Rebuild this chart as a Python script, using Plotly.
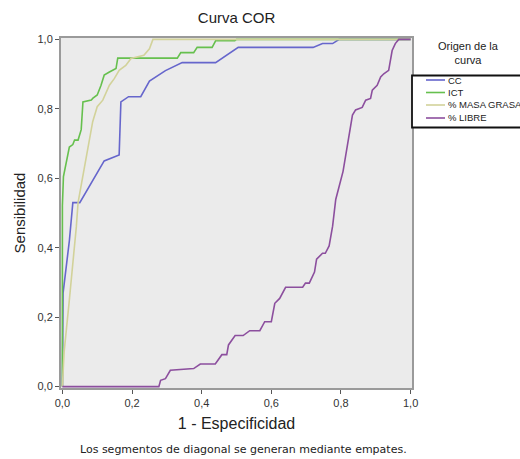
import plotly.graph_objects as go

cc_x = [0, 0, 0.002, 0.02, 0.03, 0.05, 0.097, 0.12, 0.163, 0.168, 0.19, 0.225, 0.25, 0.296, 0.344, 0.44, 0.505, 0.72, 0.747, 0.776, 0.795, 1.0]
cc_y = [0, 0.16, 0.27, 0.42, 0.53, 0.53, 0.61, 0.65, 0.667, 0.82, 0.835, 0.835, 0.88, 0.91, 0.933, 0.933, 0.977, 0.977, 0.988, 0.988, 1.0, 1.0]

ict_x = [0, 0, 0.003, 0.016, 0.02, 0.03, 0.035, 0.045, 0.054, 0.059, 0.083, 0.087, 0.10, 0.111, 0.12, 0.135, 0.154, 0.159, 0.33, 0.34, 0.377, 0.387, 0.43, 0.44, 0.495, 0.50, 1.0]
ict_y = [0, 0.52, 0.605, 0.663, 0.69, 0.697, 0.71, 0.71, 0.74, 0.82, 0.825, 0.83, 0.84, 0.868, 0.897, 0.906, 0.916, 0.946, 0.946, 0.962, 0.962, 0.977, 0.977, 0.996, 0.996, 1.0, 1.0]

masa_x = [0, 0.005, 0.02, 0.035, 0.04, 0.045, 0.059, 0.068, 0.078, 0.087, 0.10, 0.116, 0.135, 0.149, 0.163, 0.182, 0.197, 0.22, 0.234, 0.25, 0.258, 0.26, 1.0]
masa_y = [0, 0.1, 0.25, 0.395, 0.46, 0.53, 0.605, 0.653, 0.71, 0.763, 0.806, 0.825, 0.868, 0.887, 0.911, 0.925, 0.945, 0.95, 0.954, 0.973, 0.997, 1.0, 1.0]

libre_x = [0, 0.277, 0.282, 0.296, 0.31, 0.377, 0.396, 0.439, 0.458, 0.472, 0.477, 0.496, 0.519, 0.538, 0.567, 0.581, 0.60, 0.61, 0.624, 0.641, 0.69, 0.698, 0.709, 0.724, 0.73, 0.747, 0.755, 0.766, 0.776, 0.785, 0.806, 0.819, 0.833, 0.842, 0.861, 0.871, 0.885, 0.89, 0.904, 0.914, 0.923, 0.937, 0.947, 0.956, 0.966, 1.0]
libre_y = [0, 0, 0.018, 0.023, 0.047, 0.052, 0.065, 0.065, 0.092, 0.092, 0.12, 0.147, 0.147, 0.161, 0.161, 0.187, 0.187, 0.24, 0.254, 0.286, 0.286, 0.298, 0.298, 0.33, 0.367, 0.384, 0.384, 0.405, 0.462, 0.539, 0.62, 0.696, 0.782, 0.797, 0.804, 0.825, 0.83, 0.854, 0.868, 0.892, 0.901, 0.911, 0.968, 0.988, 1.0, 1.0]

tick_vals = [0, 0.2, 0.4, 0.6, 0.8, 1.0]

series_names = ["CC", "ICT", "% MASA GRASA", "% LIBRE"]
series_x = [cc_x, ict_x, masa_x, libre_x]
series_y = [cc_y, ict_y, masa_y, libre_y]
series_colors = ["#6666cc", "#66c04e", "#d2d29a", "#8c4f9e"]

fig = go.Figure()
for name, xs, ys, col in zip(series_names, series_x, series_y, series_colors):
    fig.add_trace(go.Scatter(x=xs, y=ys, mode="lines", name=name,
                             line=dict(color=col, width=1.6), showlegend=False))

axis_common = dict(
    range=[-0.004, 1.004], tickvals=tick_vals, tickformat=".1f",
    showgrid=False, zeroline=False, showline=True, mirror=True,
    linecolor="#9a9a9a", linewidth=2, ticks="outside", ticklen=4,
    tickcolor="#555555", tickfont=dict(family="Arial", size=11, color="#333333"),
)

L, R, T, B = 61, 108, 38, 71
W, H = 520, 459
pw, ph = W - L - R, H - T - B


def px2x(px):
    return (px - L) / pw


def px2y(py):
    return (H - B - py) / ph


fig.update_layout(
    width=W, height=H,
    margin=dict(l=L, r=R, t=T, b=B, autoexpand=False),
    separators=",.",
    paper_bgcolor="white", plot_bgcolor="#ebebeb",
    title=dict(text="Curva COR", x=0.455, xanchor="center", y=0.962, yanchor="middle",
               font=dict(family="Arial", size=15, color="#222222")),
    xaxis=dict(axis_common, title=dict(text="1 - Especificidad", standoff=10,
               font=dict(family="Arial", size=16, color="#222222"))),
    yaxis=dict(axis_common, title=dict(text="Sensibilidad", standoff=8,
               font=dict(family="Arial", size=15, color="#222222"))),
    showlegend=False,
)

# custom legend box
fig.add_shape(type="rect", xref="paper", yref="paper",
              x0=px2x(412), x1=px2x(535), y0=px2y(127.5), y1=px2y(75.5),
              line=dict(color="#111111", width=1.8), fillcolor="white", layer="above")
entry_y = [80, 92.5, 105, 118]
for name, col, ey in zip(series_names, series_colors, entry_y):
    fig.add_shape(type="line", xref="paper", yref="paper",
                  x0=px2x(426), x1=px2x(445), y0=px2y(ey), y1=px2y(ey),
                  line=dict(color=col, width=1.6), layer="above")
    fig.add_annotation(text=name, xref="paper", yref="paper",
                       x=px2x(446), y=px2y(ey), xanchor="left", yanchor="middle",
                       showarrow=False,
                       font=dict(family="Arial", size=9.5, color="#222222"))

fig.add_annotation(text="Origen de la<br>curva", xref="paper", yref="paper",
                   x=px2x(468), y=px2y(53), xanchor="center", yanchor="middle", showarrow=False,
                   font=dict(family="Arial", size=11, color="#222222"))
fig.add_annotation(text="Los segmentos de diagonal se generan mediante empates.",
                   xref="paper", yref="paper", x=px2x(243), y=px2y(450), xanchor="center",
                   yanchor="middle", showarrow=False,
                   font=dict(family="DejaVu Sans", size=11, color="#222222"))

fig.write_html("out.html")
